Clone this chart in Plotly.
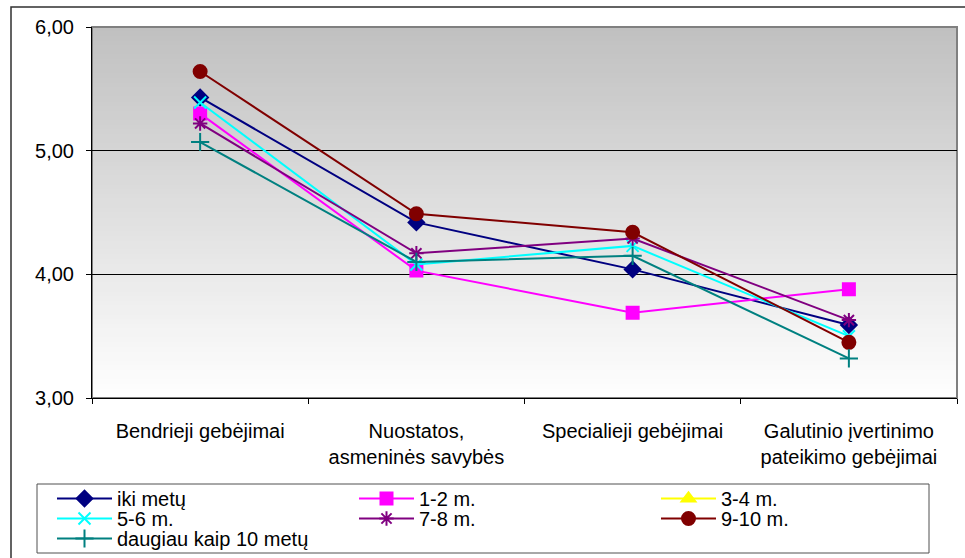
import plotly.graph_objects as go

categories = ["Bendrieji gebėjimai", "Nuostatos,<br>asmeninės savybės",
              "Specialieji gebėjimai", "Galutinio įvertinimo<br>pateikimo gebėjimai"]

series_names = ["iki metų", "1-2 m.", "3-4 m.", "5-6 m.", "7-8 m.", "9-10 m.", "daugiau kaip 10 metų"]

iki_metu = [5.43, 4.42, 4.04, 3.59]
m_1_2 = [5.30, 4.03, 3.69, 3.88]
m_3_4 = [None, None, None, None]
m_5_6 = [5.39, 4.08, 4.23, 3.50]
m_7_8 = [5.22, 4.17, 4.29, 3.63]
m_9_10 = [5.64, 4.49, 4.34, 3.45]
daugiau_10 = [5.07, 4.10, 4.15, 3.32]

values = [iki_metu, m_1_2, m_3_4, m_5_6, m_7_8, m_9_10, daugiau_10]
colors = ["#000080", "#FF00FF", "#FFFF00", "#00FFFF", "#800080", "#800000", "#008080"]
symbols = ["diamond", "square", "triangle-up", "x-thin-open", "asterisk-open", "circle", "cross-thin-open"]
msizes = [12, 12, 12, 12, 12, 13, 13]
legend_rows = ["legend", "legend", "legend", "legend2", "legend2", "legend2", "legend3"]

FONT = "Liberation Sans, Arial, sans-serif"


# pixel helpers for layout decoration (plot area: x 92..957, y 27..398)
def px_x(p):
    return (p - 92) / 865


def px_y(p):
    return (398 - p) / 371


fig = go.Figure()
for name, vals, c, s, ms, lg in zip(series_names, values, colors, symbols, msizes, legend_rows):
    fig.add_trace(go.Scatter(
        x=categories, y=vals, name=name, mode="lines+markers",
        line=dict(color=c, width=2),
        marker=dict(symbol=s, size=ms, color=c, line=dict(color=c, width=2)),
        legend=lg,
    ))

shapes = []
# gradient background bands
N = 80
for i in range(N):
    y0 = i / N
    y1 = (i + 1) / N
    frac = (i + 0.5) / N  # 0 bottom, 1 top
    v = int(round(255 - 63 * frac))
    shapes.append(dict(type="rect", xref="x domain", yref="y domain",
                       x0=0, x1=1, y0=y0, y1=y1 + 0.002, layer="below",
                       line=dict(width=0), fillcolor=f"rgb({v},{v},{v})"))
# plot area border (gray)
shapes.append(dict(type="rect", xref="x domain", yref="y domain", x0=0, x1=1, y0=0, y1=1,
                   layer="below", line=dict(color="#808080", width=2), fillcolor="rgba(0,0,0,0)"))
# outer chart border
shapes.append(dict(type="rect", xref="paper", yref="paper",
                   x0=px_x(11), x1=px_x(990), y0=px_y(580), y1=px_y(7),
                   layer="below", line=dict(color="#303030", width=1.5), fillcolor="rgba(0,0,0,0)"))
# legend box
shapes.append(dict(type="rect", xref="paper", yref="paper",
                   x0=px_x(37), x1=px_x(929), y0=px_y(553), y1=px_y(484),
                   layer="below", line=dict(color="#505050", width=1), fillcolor="rgba(0,0,0,0)"))


def legend_cfg(top_px):
    return dict(orientation="h", x=px_x(52), xanchor="left",
                y=px_y(top_px), yanchor="top",
                entrywidth=232, entrywidthmode="pixels",
                borderwidth=0, bgcolor="rgba(0,0,0,0)",
                font=dict(family=FONT, size=20), tracegroupgap=0,
                itemwidth=55, traceorder="normal")


fig.update_layout(
    width=965, height=558,
    margin=dict(l=92, r=8, t=27, b=160, autoexpand=False),
    paper_bgcolor="white", plot_bgcolor="rgba(0,0,0,0)",
    separators=", ",
    font=dict(family=FONT, size=20, color="black"),
    shapes=shapes,
    showlegend=True,
    legend=legend_cfg(479),
    legend2=legend_cfg(499),
    legend3=legend_cfg(519),
    xaxis=dict(range=[-0.5, 3.5], showline=True, linecolor="black", linewidth=1,
               ticks="outside", tickson="boundaries", ticklen=5, tickcolor="black",
               showgrid=False, tickangle=0, ticklabelstandoff=15,
               tickfont=dict(family=FONT, size=20)),
    yaxis=dict(range=[3, 6], dtick=1, tickformat=".2f", showline=True, linecolor="black",
               linewidth=1, ticks="outside", ticklen=5, tickcolor="black",
               showgrid=True, gridcolor="black", gridwidth=1, zeroline=False,
               ticklabelstandoff=8, tickfont=dict(family=FONT, size=20)),
)

fig.write_html("out.html")
